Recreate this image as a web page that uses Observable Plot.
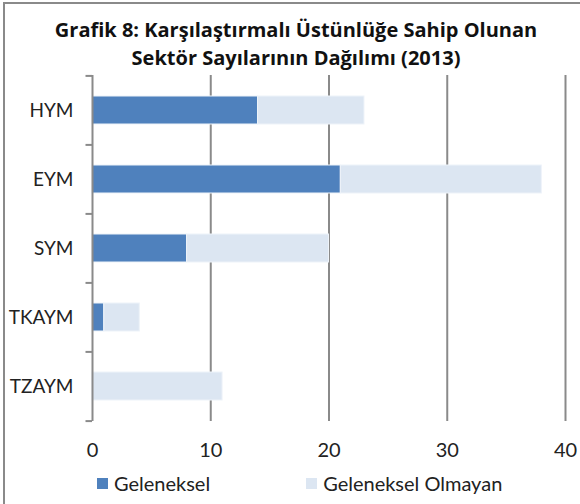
<!DOCTYPE html>
<html>
<head>
<meta charset="utf-8">
<script src="https://cdn.jsdelivr.net/npm/d3@7"></script>
<script src="https://cdn.jsdelivr.net/npm/@observablehq/plot@0.6"></script>
<style>
  html, body { margin: 0; padding: 0; background: #fff; overflow: hidden; }
  #wrap { position: relative; width: 580px; height: 504px; font-family: Lato, "Open Sans", sans-serif; }
  #frame { position: absolute; left: 3px; top: 2px; width: 700px; height: 600px; border-left: 2px solid #8a8a8a; border-top: 2px solid #8a8a8a; }
  #title { position: absolute; left: 0; top: 16px; width: 592px; text-align: center; font-family: "Open Sans", Lato, sans-serif; font-weight: bold; font-size: 20px; line-height: 27.5px; color: #111; white-space: nowrap; }
  #chart { position: absolute; left: 0; top: 70px; }
  #legend { position: absolute; left: 97px; top: 471px; font-size: 20px; line-height: 24px; color: #222; display: flex; }
  .item { display: flex; align-items: center; }
  .sw { width: 11px; height: 11px; margin-right: 6px; }
</style>
</head>
<body>
<div id="wrap">
  <div id="frame"></div>
  <div id="title">Grafik 8: Karşılaştırmalı Üstünlüğe Sahip Olunan<br>Sektör Sayılarının Dağılımı (2013)</div>
  <div id="chart"></div>
  <div id="legend"></div>
</div>
<script>
const categories = ["HYM", "EYM", "SYM", "TKAYM", "TZAYM"];
const geleneksel = [14, 21, 8, 1, 0];
const olmayan = [9, 17, 12, 3, 11];
const seriesNames = ["Geleneksel", "Geleneksel Olmayan"];
const colors = ["#4F81BD", "#DCE6F2"];
const xTicks = [0, 10, 20, 30, 40];

const data = [];
categories.forEach((c, i) => {
  data.push({cat: c, series: seriesNames[0], value: geleneksel[i]});
  data.push({cat: c, series: seriesNames[1], value: olmayan[i]});
});

const W = 580, H = 391, mT = 5, mB = 40, mL = 92, mR = 15;
const innerH = H - mT - mB;
const step = innerH / categories.length;

const chart = Plot.plot({
  width: W, height: H,
  marginTop: mT, marginBottom: mB, marginLeft: mL, marginRight: mR,
  style: {fontFamily: "Lato, 'Open Sans', sans-serif", fontSize: "20px", color: "#222", background: "transparent"},
  x: {domain: [0, 40], ticks: xTicks, grid: false},
  y: {domain: categories, paddingInner: 0.59, paddingOuter: 0.295},
  color: {domain: seriesNames, range: colors},
  marks: [
    Plot.ruleX(xTicks.filter(d => d > 0), {stroke: "#8a8a8a", strokeWidth: 2, strokeOpacity: 1}),
    Plot.barX(data, Plot.stackX({x: "value", y: "cat", fill: "series", order: seriesNames, stroke: "#eef3f9", strokeWidth: 1})),
    Plot.ruleX([0], {stroke: "#8a8a8a", strokeWidth: 2}),
    Plot.ruleY(categories, {y: d => d, x1: -0.55, x2: 0, dy: -step / 2, stroke: "#8a8a8a", strokeWidth: 2}),
    Plot.ruleY(categories.slice(-1), {y: d => d, x1: -0.55, x2: 0, dy: step / 2, stroke: "#8a8a8a", strokeWidth: 2}),
    Plot.axisX({ticks: xTicks, tickSize: 0, tickPadding: 21, label: null, tickFormat: d => d, fill: "#222"}),
    Plot.axisY({tickSize: 0, tickPadding: 19, label: null, fill: "#222", fontSize: 19})
  ]
});
document.getElementById("chart").appendChild(chart);

const legend = document.getElementById("legend");
seriesNames.forEach((s, i) => {
  const item = document.createElement("div");
  item.className = "item";
  item.style.marginRight = i === 0 ? "96px" : "0";
  const sw = document.createElement("div");
  sw.className = "sw";
  sw.style.background = colors[i];
  const t = document.createElement("span");
  t.textContent = s;
  item.appendChild(sw);
  item.appendChild(t);
  legend.appendChild(item);
});
</script>
</body>
</html>
